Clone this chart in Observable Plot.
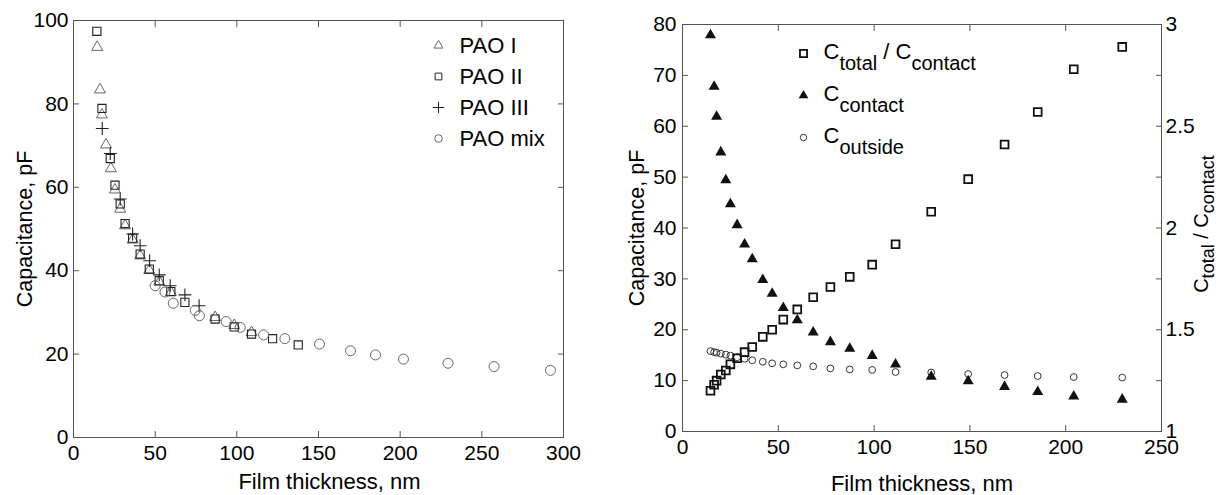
<!DOCTYPE html>
<html><head><meta charset="utf-8">
<script src="https://cdn.jsdelivr.net/npm/d3@7"></script>
<script src="https://cdn.jsdelivr.net/npm/@observablehq/plot@0.6"></script>
<style>
html,body{margin:0;padding:0;background:#fff;}
#wrap{position:relative;width:1224px;height:495px;overflow:hidden;background:#fff;}
#left{position:absolute;left:0;top:0;}
#right{position:absolute;left:600px;top:0;}
</style></head><body><div id="wrap"><div id="left"></div><div id="right"></div></div>
<script>
// ---------- Left panel data (Film thickness nm, Capacitance pF) ----------
const paoIThickness = [14.5,16.2,17.4,19.9,22.9,25.4,28.6,31.6,36.2,40.8,46.4,52.5,59.6,86.7,98.4,109.0];
const paoICap       = [93.6,83.4,77.4,70.2,64.5,59.4,54.8,50.8,47.4,43.6,40.1,37.3,34.8,28.8,26.9,25.2];
const paoIIThickness = [14.3,17.4,22.5,25.4,28.6,31.6,36.2,40.8,46.4,52.5,59.6,68.2,86.7,98.4,109.0,121.9,137.6];
const paoIICap       = [97.4,78.9,66.9,60.5,56.0,51.3,47.8,44.0,40.4,37.6,35.0,32.4,28.4,26.5,24.8,23.7,22.2];
const paoIIIThickness = [17.6,22.5,28.6,36.2,40.8,46.6,52.5,59.2,68.2,76.9];
const paoIIICap       = [74.1,68.1,57.2,48.8,46.0,42.4,39.0,36.4,34.2,31.6];
const paoMixThickness = [50.0,56.0,61.1,74.5,77.1,93.5,102.1,116.4,129.4,150.6,169.6,184.9,202.0,229.3,257.5,292.0];
const paoMixCap       = [36.4,34.9,32.2,30.5,29.2,27.8,26.4,24.6,23.7,22.4,20.8,19.8,18.8,17.8,17.0,16.1];
const leftXTicks = [0,50,100,150,200,250,300];
const leftYTicks = [0,20,40,60,80,100];
const leftLegend = ["PAO I","PAO II","PAO III","PAO mix"];

// ---------- Right panel data ----------
const thicknessR = [14.6,16.5,17.8,20.0,22.6,25.0,28.5,32.4,36.4,41.9,46.8,52.6,59.9,68.2,77.2,87.3,99.0,111.2,129.8,149.1,168.1,185.4,204.2,229.5];
const cContact   = [77.9,67.8,61.9,54.9,49.4,44.7,40.6,36.8,33.9,29.8,27.1,24.3,21.9,19.5,17.6,16.3,14.9,13.2,10.8,9.9,8.8,7.8,6.9,6.3];
const cOutside   = [15.8,15.6,15.5,15.3,15.1,14.9,14.6,14.3,14.0,13.7,13.4,13.2,13.0,12.8,12.4,12.2,12.1,11.7,11.6,11.3,11.1,10.9,10.7,10.6];
const totalRatio = [1.20,1.23,1.25,1.28,1.30,1.33,1.36,1.39,1.415,1.465,1.50,1.55,1.60,1.66,1.71,1.76,1.82,1.92,2.08,2.24,2.41,2.57,2.78,2.89];
const rightXTicks = [0,50,100,150,200,250];
const rightYTicks = [0,10,20,30,40,50,60,70,80];
const ratioTicks = [1,1.25,1.5,1.75,2,2.25,2.5,2.75,3];
const ratioLabeled = [1,1.5,2,2.5,3];
const rightLegend = ["C_total / C_contact","C_contact","C_outside"];

const FONT = "'Liberation Sans', Arial, Helvetica, sans-serif";
const FRAME = "#555";
const pts = (xs, ys) => xs.map((x, i) => ({x, y: ys[i]}));

// ---------- Left plot ----------
const legendSymbolsL = [
  {symbol: "triangle", stroke: "#666", r: 3.3, strokeWidth: 1},
  {symbol: "square", stroke: "#222", r: 3.8, strokeWidth: 1},
  {symbol: "plus", stroke: "#222", r: 3.8, strokeWidth: 1},
  {symbol: "circle", stroke: "#666", r: 3.8, strokeWidth: 1}
];
const leftLegendMarks = leftLegend.flatMap((lab, i) => [
  Plot.dot([lab], {frameAnchor: "top-left", dx: 365, dy: 25 + i * 31, fill: "none", ...legendSymbolsL[i]}),
  Plot.text([lab], {frameAnchor: "top-left", dx: 386, dy: 25 + i * 31, text: d => d, textAnchor: "start", lineAnchor: "middle", fontSize: 22, fill: "black"})
]);

const leftPlot = Plot.plot({
  width: 600, height: 495,
  marginLeft: 73, marginRight: 37, marginTop: 20, marginBottom: 58,
  style: {fontFamily: FONT, fontSize: "21px", background: "white", color: "black"},
  x: {domain: [0, 300]},
  y: {domain: [0, 100]},
  marks: [
    Plot.frame({stroke: FRAME}),
    Plot.axisX(leftXTicks, {anchor: "bottom", tickSize: -6, tickPadding: 14, stroke: FRAME, fill: "black", label: null}),
    Plot.axisX(leftXTicks, {anchor: "top", tickSize: -6, tickFormat: () => "", stroke: FRAME, label: null}),
    Plot.axisY(leftYTicks, {anchor: "left", tickSize: -6, tickPadding: 11, stroke: FRAME, fill: "black", label: null}),
    Plot.axisY(leftYTicks, {anchor: "right", tickSize: -6, tickFormat: () => "", stroke: FRAME, label: null}),
    Plot.dot(pts(paoIThickness, paoICap), {x: "x", y: "y", symbol: "triangle", r: 4.1, stroke: "#666", fill: "none", strokeWidth: 1}),
    Plot.dot(pts(paoIIThickness, paoIICap), {x: "x", y: "y", symbol: "square", r: 4.6, stroke: "#222", fill: "none", strokeWidth: 1.1}),
    Plot.dot(pts(paoIIIThickness, paoIIICap), {x: "x", y: "y", symbol: "plus", r: 4.2, stroke: "#222", strokeWidth: 1.1}),
    Plot.dot(pts(paoMixThickness, paoMixCap), {x: "x", y: "y", symbol: "circle", r: 5, stroke: "#666", fill: "none", strokeWidth: 1}),
    Plot.text(["Film thickness, nm"], {frameAnchor: "bottom", dx: 11, dy: 44.5, text: d => d, textAnchor: "middle", lineAnchor: "middle", fontSize: 22, fill: "black"}),
    Plot.text(["Capacitance, pF"], {frameAnchor: "left", dx: -48, text: d => d, rotate: -90, textAnchor: "middle", lineAnchor: "middle", fontSize: 21.5, fill: "black"}),
    ...leftLegendMarks
  ]
});
document.getElementById("left").appendChild(leftPlot);

// ---------- Right plot ----------
const ratioToCap = r => (r - 1) * 40;
const capToRatio = c => Math.round((1 + c / 40) * 100) / 100;
const legendSymbolsR = [
  {symbol: "square", stroke: "#111", fill: "none", r: 4.0, strokeWidth: 1.8},
  {symbol: "triangle", fill: "#111", r: 3.6},
  {symbol: "circle", stroke: "#333", fill: "none", r: 3.2, strokeWidth: 1}
];
const rightLegendMarks = rightLegend.flatMap((lab, i) => [
  Plot.dot([lab], {frameAnchor: "top-left", dx: 121, dy: 29 + i * 42, ...legendSymbolsR[i]}),
  Plot.text([lab], {frameAnchor: "top-left", dx: 141, dy: 27 + i * 42, text: d => d, textAnchor: "start", lineAnchor: "middle", fontSize: 22, fill: "black"})
]);

const rightPlot = Plot.plot({
  width: 624, height: 495,
  marginLeft: 82, marginRight: 63, marginTop: 24, marginBottom: 64,
  style: {fontFamily: FONT, fontSize: "21px", background: "white", color: "black"},
  x: {domain: [0, 250]},
  y: {domain: [0, 80]},
  marks: [
    Plot.frame({stroke: FRAME}),
    Plot.axisX(rightXTicks, {anchor: "bottom", tickSize: -6, tickPadding: 14, stroke: FRAME, fill: "black", label: null}),
    Plot.axisX(rightXTicks, {anchor: "top", tickSize: -6, tickFormat: () => "", stroke: FRAME, label: null}),
    Plot.axisY(rightYTicks, {anchor: "left", tickSize: -6, tickPadding: 12, stroke: FRAME, fill: "black", label: null}),
    Plot.axisY(ratioTicks.map(ratioToCap), {anchor: "right", tickSize: -6, tickPadding: 10, stroke: FRAME, fill: "black", label: null,
      tickFormat: d => ratioLabeled.includes(capToRatio(d)) ? String(capToRatio(d)) : ""}),
    Plot.dot(thicknessR.map((t, i) => ({t, v: cOutside[i]})), {x: "t", y: "v", symbol: "circle", r: 3.4, stroke: "#333", fill: "none", strokeWidth: 1}),
    Plot.dot(thicknessR.map((t, i) => ({t, v: cContact[i]})), {x: "t", y: "v", symbol: "triangle", r: 4.1, fill: "#111"}),
    Plot.dot(thicknessR.map((t, i) => ({t, v: ratioToCap(totalRatio[i])})), {x: "t", y: "v", symbol: "square", r: 4.4, stroke: "#111", fill: "none", strokeWidth: 1.8}),
    Plot.text(["Film thickness, nm"], {frameAnchor: "bottom", dy: 52, text: d => d, textAnchor: "middle", lineAnchor: "middle", fontSize: 22, fill: "black"}),
    Plot.text(["Capacitance, pF"], {frameAnchor: "left", dx: -45, text: d => d, rotate: -90, textAnchor: "middle", lineAnchor: "middle", fontSize: 21.5, fill: "black"}),
    Plot.text(["C_total / C_contact"], {frameAnchor: "right", dx: 40, dy: -4, text: d => d, rotate: -90, textAnchor: "middle", lineAnchor: "middle", fontSize: 20, fill: "black"}),
    ...rightLegendMarks
  ]
});
document.getElementById("right").appendChild(rightPlot);

// Turn "_word" into subscripts
document.querySelectorAll("svg text").forEach(t => {
  const s = t.textContent;
  if (!s.includes("_")) return;
  const rotated = (t.getAttribute("transform") || "").includes("rotate");
  const SUB = rotated ? 6 : 11;
  const subSize = rotated ? "18" : "20";
  const parts = s.split(/(_[A-Za-z]+)/).filter(p => p.length);
  while (t.firstChild) t.removeChild(t.firstChild);
  let sub = false;
  parts.forEach(p => {
    const ts = document.createElementNS("http://www.w3.org/2000/svg", "tspan");
    if (p.startsWith("_")) {
      ts.textContent = p.slice(1);
      ts.setAttribute("dy", SUB);
      ts.setAttribute("font-size", subSize);
      sub = true;
    } else {
      ts.textContent = p;
      if (sub) ts.setAttribute("dy", -SUB);
      sub = false;
    }
    t.appendChild(ts);
  });
});
</script></body></html>
